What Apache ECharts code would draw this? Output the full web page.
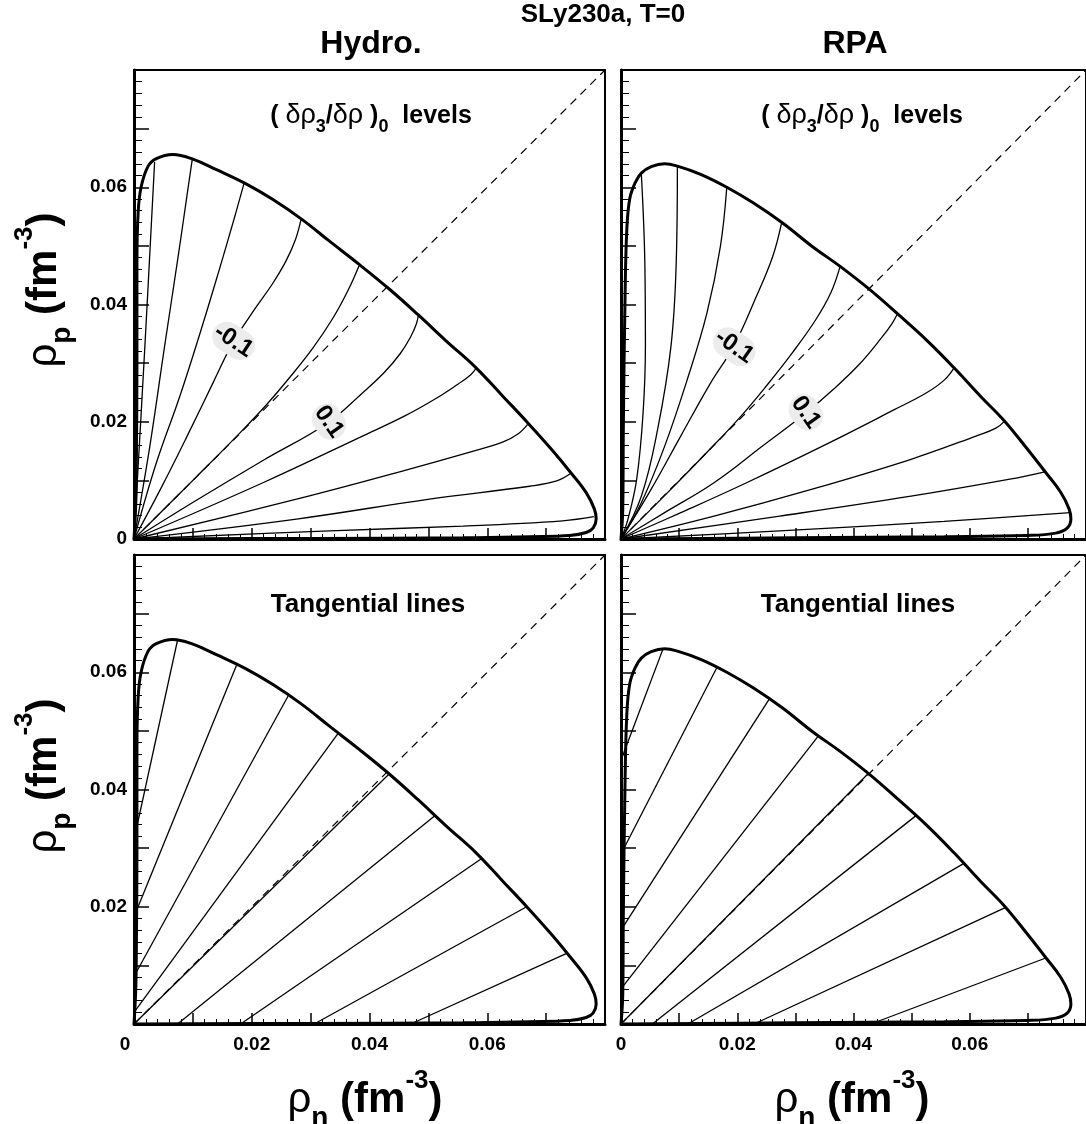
<!DOCTYPE html>
<html>
<head>
<meta charset="utf-8">
<script src="https://cdn.jsdelivr.net/npm/echarts@6/dist/echarts.min.js"></script>
<style>html,body{margin:0;padding:0;background:#fff}#chart{width:1086px;height:1124px}</style>
</head>
<body>
<div id="chart"></div>
<script>
// ---------- data (densities in fm^-3) ----------
const xTickValues = [0, 0.02, 0.04, 0.06];
const xTickLabels = ['0', '0.02', '0.04', '0.06'];
const yTickValues = [0, 0.02, 0.04, 0.06];
const yTickLabels = ['0', '0.02', '0.04', '0.06'];

const hydroBoundary = [[0,0],[0.0003,0.006],[0.0004,0.013],[0.0005,0.03],[0.0005,0.047],[0.0007,0.0556],[0.0012,0.060],[0.0024,0.0636],[0.0038,0.0649],[0.0066,0.0656],[0.010,0.0648],[0.014,0.063],[0.0188,0.0607],[0.0236,0.0579],[0.0284,0.0546],[0.0332,0.0508],[0.0383,0.0468],[0.0434,0.0426],[0.0482,0.0383],[0.053,0.0338],[0.0581,0.0292],[0.0626,0.0244],[0.0669,0.0198],[0.0709,0.0153],[0.0742,0.0113],[0.0768,0.0079],[0.0782,0.0051],[0.0785,0.0034],[0.078,0.0019],[0.0768,0.0011],[0.074,0.0006],[0.0672,0.0004],[0.056,0.0002],[0.03,0.0001],[0,0]];

const rpaBoundary = [[0,0],[0.0003,0.005],[0.0004,0.0187],[0.0007,0.0414],[0.001,0.0528],[0.0015,0.058],[0.0024,0.0607],[0.0035,0.0624],[0.0052,0.0635],[0.0075,0.064],[0.0097,0.0636],[0.0137,0.0622],[0.0182,0.06],[0.0228,0.0573],[0.0278,0.0539],[0.0329,0.0499],[0.0377,0.0465],[0.0426,0.0427],[0.0477,0.0383],[0.0527,0.0338],[0.0573,0.0292],[0.0618,0.0244],[0.066,0.0201],[0.0697,0.0156],[0.0731,0.0113],[0.0757,0.0079],[0.0771,0.0051],[0.0774,0.0034],[0.0768,0.0019],[0.0748,0.001],[0.0697,0.0006],[0.0556,0.0004],[0.03,0.0002],[0,0]];

const levelValues = [-0.4, -0.3, -0.2, -0.1, 0, 0.1, 0.2, 0.3, 0.4, 0.5];

const hydroLevels = [
  [[0,0],[0.0018,0.032],[0.0035,0.0643]],
  [[0,0],[0.0027,0.0159],[0.0052,0.0329],[0.0075,0.0482],[0.0089,0.0579],[0.0099,0.0648]],
  [[0,0],[0.0038,0.013],[0.0078,0.0244],[0.0114,0.0357],[0.0145,0.046],[0.0168,0.0539],[0.0187,0.0607]],
  [[0,0],[0.0045,0.0085],[0.009,0.0175],[0.0135,0.0268],[0.0168,0.0335],[0.0205,0.0392],[0.0235,0.0435],[0.0258,0.0474],[0.0274,0.051],[0.0284,0.0546]],
  [[0,0],[0.0106,0.0106],[0.018,0.0181],[0.0225,0.0229],[0.0264,0.0275],[0.0304,0.0326],[0.0338,0.0377],[0.0363,0.0423],[0.0383,0.0468]],
  [[0,0],[0.0106,0.0066],[0.0219,0.0134],[0.0329,0.0198],[0.0389,0.025],[0.0425,0.0284],[0.0452,0.0316],[0.047,0.0345],[0.048,0.0368],[0.0483,0.0383]],
  [[0,0],[0.0219,0.0096],[0.0389,0.0176],[0.046,0.021],[0.0515,0.0241],[0.055,0.0264],[0.0572,0.028],[0.0582,0.0293]],
  [[0,0],[0.0276,0.0068],[0.0445,0.0113],[0.0587,0.0153],[0.0628,0.0166],[0.0652,0.0179],[0.0669,0.0196]],
  [[0,0],[0.0276,0.0034],[0.0502,0.0068],[0.0672,0.009],[0.0718,0.0099],[0.0742,0.0112]],
  [[0,0],[0.0332,0.0014],[0.0559,0.0022],[0.0728,0.0031],[0.0781,0.0038]]
];

const rpaLevels = [
  [[0,0],[0.0012,0.0034],[0.0027,0.0102],[0.0038,0.0215],[0.0042,0.0329],[0.0041,0.0471],[0.0035,0.0622]],
  [[0,0],[0.0035,0.0073],[0.0063,0.0187],[0.0086,0.0329],[0.0095,0.0471],[0.0097,0.0636]],
  [[0,0],[0.0035,0.0062],[0.0075,0.0158],[0.0114,0.0272],[0.0148,0.0386],[0.0171,0.0499],[0.0182,0.06]],
  [[0,0],[0.0052,0.0085],[0.0103,0.0176],[0.0154,0.0266],[0.0194,0.0329],[0.0233,0.0414],[0.0261,0.0482],[0.0276,0.0538]],
  [[0,0],[0.0075,0.0074],[0.0148,0.0148],[0.0205,0.0208],[0.025,0.0261],[0.0295,0.0318],[0.0335,0.0374],[0.0361,0.042],[0.0377,0.0465]],
  [[0,0],[0.0075,0.0045],[0.016,0.0096],[0.0244,0.0159],[0.0318,0.0215],[0.0365,0.0255],[0.041,0.0298],[0.0448,0.0343],[0.0466,0.0367],[0.0475,0.0383]],
  [[0,0],[0.0103,0.0045],[0.0216,0.0096],[0.0358,0.0164],[0.0471,0.0221],[0.0525,0.0249],[0.0556,0.0271],[0.0573,0.0292]],
  [[0,0],[0.016,0.0039],[0.0329,0.0085],[0.0499,0.0136],[0.0612,0.0176],[0.0645,0.0189],[0.066,0.0201]],
  [[0,0],[0.0273,0.0039],[0.0499,0.0073],[0.0669,0.0102],[0.0731,0.0115]],
  [[0,0],[0.0273,0.0014],[0.0556,0.003],[0.0773,0.0045]]
];

const levelLabelTexts = ['-0.1', '0.1'];
const hydroLabelPos = [[0.0169, 0.0338], [0.0331, 0.0200]];
const rpaLabelPos = [[0.0195, 0.0328], [0.0318, 0.0216]];

const hydroTangents = [
  [[0.0074,0.0655],[0,0.0314]],
  [[0.0175,0.0614],[0,0.0183]],
  [[0.0262,0.0560],[0,0.0081]],
  [[0.0347,0.0496],[0,0.002]],
  [[0.0435,0.0428],[0,0]],
  [[0.0512,0.0356],[0.0074,0]],
  [[0.059,0.0282],[0.0181,0]],
  [[0.0667,0.0200],[0.0306,0]],
  [[0.0734,0.0120],[0.047,0]]
];

const rpaTangents = [
  [[0.0072,0.0639],[0,0.045]],
  [[0.0165,0.0608],[0,0.029]],
  [[0.0255,0.0554],[0,0.016]],
  [[0.034,0.0492],[0,0.006]],
  [[0.0425,0.0427],[0,0]],
  [[0.0507,0.0355],[0.0054,0]],
  [[0.059,0.0274],[0.0115,0]],
  [[0.0662,0.0199],[0.0229,0]],
  [[0.0732,0.0113],[0.043,0]]
];

const diagonal = [[0,0],[0.08,0.08]];

// ---------- chart ----------
const FONT = '"Liberation Sans", Arial, sans-serif';
const chart = echarts.init(document.getElementById('chart'), null, {renderer: 'canvas'});

const panels = [
  {left: 134, top: 70, xLabels: false, yLabels: 'all'},
  {left: 621, top: 70, xLabels: false, yLabels: 'none'},
  {left: 134, top: 555, xLabels: 'shift0', yLabels: 'no0'},
  {left: 621, top: 555, xLabels: 'all', yLabels: 'none'}
];

function findLabel(vals, labs, v) {
  const i = vals.findIndex(t => Math.abs(t - v) < 1e-9);
  return i < 0 ? '' : labs[i];
}

const grids = panels.map(p => ({
  left: p.left, top: p.top, width: 471, height: 469,
  show: true, borderColor: '#000', borderWidth: 2, backgroundColor: 'transparent', containLabel: false
}));

const xAxes = panels.map((p, i) => ({
  type: 'value', gridIndex: i, min: 0, max: 0.08, interval: 0.01,
  axisLine: {show: true, onZero: false, lineStyle: {color: '#000', width: 3}},
  axisTick: {show: true, inside: true, length: 11, lineStyle: {color: '#000', width: 1.5}},
  minorTick: {show: true, splitNumber: 5, length: 5, lineStyle: {color: '#000', width: 1}},
  splitLine: {show: false}, minorSplitLine: {show: false},
  axisLabel: {
    show: !!p.xLabels, margin: 11, color: '#000', fontSize: 19, fontWeight: 'bold', fontFamily: FONT,
    showMaxLabel: false,
    formatter: v => {
      const s = findLabel(xTickValues, xTickLabels, v);
      if (p.xLabels === 'shift0' && s === '0') return '{z|0}';
      return s;
    },
    rich: {z: {fontSize: 19, fontWeight: 'bold', fontFamily: FONT, color: '#000', padding: [0, 18, 0, 0]}}
  }
}));

const yAxes = panels.map((p, i) => ({
  type: 'value', gridIndex: i, min: 0, max: 0.08, interval: 0.01,
  axisLine: {show: true, onZero: false, lineStyle: {color: '#000', width: 3}},
  axisTick: {show: true, inside: true, length: 15, lineStyle: {color: '#000', width: 1.5}},
  minorTick: {show: true, splitNumber: 5, length: 8, lineStyle: {color: '#000', width: 1}},
  splitLine: {show: false}, minorSplitLine: {show: false},
  axisLabel: {
    show: p.yLabels !== 'none', margin: 7, color: '#000', fontSize: 19, fontWeight: 'bold', fontFamily: FONT,
    showMaxLabel: false,
    formatter: v => {
      const s = findLabel(yTickValues, yTickLabels, v);
      if (p.yLabels === 'no0' && s === '0') return '';
      return s;
    }
  }
}));

const series = [];
function addLine(data, gi, width, dashed, z) {
  series.push({
    type: 'line', xAxisIndex: gi, yAxisIndex: gi, data: data,
    showSymbol: false, symbol: 'none', smooth: dashed ? false : 0.4,
    lineStyle: {color: '#000', width: width, type: dashed ? [8, 6] : 'solid'},
    silent: true, animation: false, z: z || 2
  });
}
function addStraight(data, gi) {
  series.push({
    type: 'line', xAxisIndex: gi, yAxisIndex: gi, data: data,
    showSymbol: false, symbol: 'none', smooth: false,
    lineStyle: {color: '#000', width: 1.3},
    silent: true, animation: false, z: 2
  });
}

// top panels: levels
[[hydroBoundary, hydroLevels, 0], [rpaBoundary, rpaLevels, 1]].forEach(([b, lv, gi]) => {
  addLine(diagonal, gi, 1.2, true, 1);
  lv.forEach(l => addLine(l, gi, 1.3, false, 2));
  addLine(b, gi, 3, false, 3);
});
// bottom panels: tangential lines
[[hydroBoundary, hydroTangents, 2], [rpaBoundary, rpaTangents, 3]].forEach(([b, tg, gi]) => {
  addLine(diagonal, gi, 1.2, true, 1);
  tg.forEach(l => addStraight(l, gi));
  addLine(b, gi, 3, false, 3);
});

// ---------- texts ----------
const richTitle = {
  m: {fontSize: 42, fontWeight: 'bold', fontFamily: FONT, fill: '#000', lineHeight: 64, verticalAlign: 'middle'},
  g: {fontSize: 42, fontWeight: 'normal', fontFamily: FONT, fill: '#000', lineHeight: 64, verticalAlign: 'middle'},
  s: {fontSize: 28, fontWeight: 'bold', fontFamily: FONT, fill: '#000', lineHeight: 12, verticalAlign: 'bottom'},
  u: {fontSize: 26, fontWeight: 'bold', fontFamily: FONT, fill: '#000', lineHeight: 34, verticalAlign: 'top'}
};
const richLevels = {
  p: {fontSize: 25, fontWeight: 'bold', fontFamily: FONT, fill: '#000', lineHeight: 40, verticalAlign: 'middle'},
  g: {fontSize: 27, fontWeight: 'normal', fontFamily: FONT, fill: '#000', lineHeight: 40, verticalAlign: 'middle'},
  s: {fontSize: 18, fontWeight: 'bold', fontFamily: FONT, fill: '#000', lineHeight: 8, verticalAlign: 'bottom'}
};
const levelsText = '{p|( }{g|δρ}{s|3}{p|/}{g|δρ}{p| )}{s|0}{p|  levels}';
function plain(x, y, text, size) {
  return {type: 'text', x: x, y: y, silent: true, style: {text: text, font: 'bold ' + size + 'px ' + FONT, fill: '#000', align: 'center', verticalAlign: 'middle'}};
}
function richText(x, y, text, rich, rot) {
  return {type: 'text', x: x, y: y, rotation: rot || 0, silent: true, style: {text: text, rich: rich, fill: '#000', align: 'center', verticalAlign: 'middle', font: 'bold 38px ' + FONT}};
}

const graphic = [
  plain(603, 15, 'SLy230a, T=0', 26),
  plain(371, 44, 'Hydro.', 32),
  plain(855, 44, 'RPA', 32),
  richText(371, 116, levelsText, richLevels),
  richText(862, 116, levelsText, richLevels),
  plain(368, 605, 'Tangential lines', 26),
  plain(858, 605, 'Tangential lines', 26),
  richText(44, 290, '{g|ρ}{s|p}{m| (fm}{u|-3}{m|)}', richTitle, Math.PI / 2),
  richText(44, 776, '{g|ρ}{s|p}{m| (fm}{u|-3}{m|)}', richTitle, Math.PI / 2),
  richText(365, 1100, '{g|ρ}{s|n}{m| (fm}{u|-3}{m|)}', richTitle),
  richText(852, 1100, '{g|ρ}{s|n}{m| (fm}{u|-3}{m|)}', richTitle)
];

chart.setOption({
  animation: false,
  backgroundColor: '#fff',
  grid: grids,
  xAxis: xAxes,
  yAxis: yAxes,
  series: series,
  graphic: graphic
});

// contour-level labels placed through the axes' own scales
const labelGraphics = [];
[[hydroLabelPos, 0, [-33, -55]], [rpaLabelPos, 1, [-35, -55]]].forEach(([pos, gi, rots]) => {
  pos.forEach((pt, k) => {
    const px = chart.convertToPixel({gridIndex: gi}, pt);
    labelGraphics.push({
      type: 'text', x: px[0], y: px[1], rotation: rots[k] * Math.PI / 180, z: 100, silent: true,
      style: {
        text: levelLabelTexts[k], font: 'bold 24px ' + FONT, fill: '#000', align: 'center', verticalAlign: 'middle',
        backgroundColor: '#ececec', borderRadius: 16, padding: [4, 2, 2, 2]
      }
    });
  });
});
chart.setOption({graphic: graphic.concat(labelGraphics)});
</script>
</body>
</html>
